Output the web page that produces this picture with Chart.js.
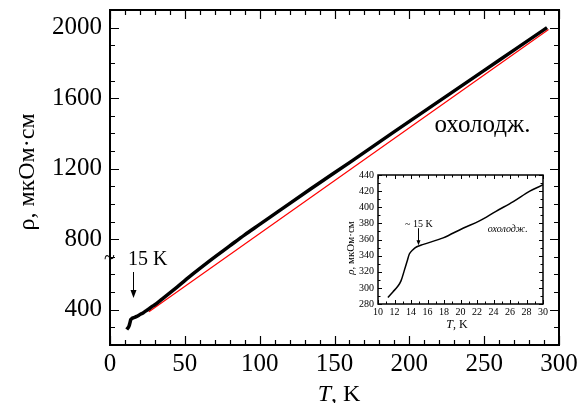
<!DOCTYPE html>
<html>
<head>
<meta charset="utf-8">
<script src="https://cdn.jsdelivr.net/npm/chart.js@4.4.1/dist/chart.umd.min.js"></script>
<style>
html, body { margin: 0; padding: 0; background: #fff; }
#wrap { position: relative; width: 579px; height: 403px; }
#main { position: absolute; left: 0; top: 0; }
#inset { position: absolute; left: 335px; top: 165px; }
</style>
</head>
<body>
<div id="wrap">
  <canvas id="main" width="579" height="403"></canvas>
  <canvas id="inset" width="215" height="172"></canvas>
</div>
<script>
// Опір при охолодженні (T, K -> ρ, мкОм·см)
const tempK = [11.2, 11.8, 12.4, 12.8, 13.2, 13.5, 13.8, 14.2, 14.7, 15.5, 17.9, 20.3, 22.3, 24.3, 26.4, 28.4, 30,
               35, 45, 55, 67, 80, 90, 100, 112, 134, 161, 190, 228, 260, 292];
const rhoCool = [288, 295, 302, 309, 322, 332, 342, 347, 351, 354, 362, 374, 383, 395, 407, 420, 428,
                 462, 530, 600, 680, 762, 825, 884, 955, 1085, 1240, 1410, 1630, 1815, 2000];

// червона пряма (лінійна екстраполяція)
const fitT = [26, 293];
const fitRho = [388, 1990];

// підписи осей
const mainXLabels = [0, 50, 100, 150, 200, 250, 300];
const mainYLabels = [400, 800, 1200, 1600, 2000];
const insetXLabels = [10, 12, 14, 16, 18, 20, 22, 24, 26, 28, 30];
const insetYLabels = [280, 300, 320, 340, 360, 380, 400, 420, 440];

const SERIF = "'Liberation Serif', 'Times New Roman', serif";

function hasLabel(v, arr) {
    return arr.some(a => Math.abs(a - v) < 1e-6);
}

function points(xs, ys) {
    return xs.map((x, i) => ({ x: x, y: ys[i] }));
}

// текст з курсивними частинами
function drawRich(ctx, parts, size, cx, cy, rotate) {
    ctx.save();
    ctx.translate(cx, cy);
    if (rotate) ctx.rotate(-Math.PI / 2);
    ctx.textBaseline = 'middle';
    ctx.textAlign = 'left';
    ctx.fillStyle = '#000';
    let total = 0;
    parts.forEach(p => {
        ctx.font = (p.italic ? 'italic ' : '') + size + 'px ' + SERIF;
        p.w = ctx.measureText(p.text).width;
        total += p.w;
    });
    let x = -total / 2;
    parts.forEach(p => {
        ctx.font = (p.italic ? 'italic ' : '') + size + 'px ' + SERIF;
        ctx.fillText(p.text, x, 0);
        x += p.w;
    });
    ctx.restore();
}

function arrowDown(ctx, x, y1, y2, head, half) {
    ctx.beginPath();
    ctx.moveTo(x, y1);
    ctx.lineTo(x, y2 - head + 1);
    ctx.stroke();
    ctx.beginPath();
    ctx.moveTo(x, y2);
    ctx.lineTo(x - half, y2 - head);
    ctx.lineTo(x + half, y2 - head);
    ctx.closePath();
    ctx.fill();
}

// рамка та внутрішні штрихи на всіх чотирьох сторонах
function frameTicks(o) {
    return {
        id: 'frameTicks',
        afterDraw(chart) {
            const ctx = chart.ctx, a = chart.chartArea;
            const xs = chart.scales.x, ys = chart.scales.y;
            ctx.save();
            ctx.strokeStyle = '#000';
            ctx.lineWidth = o.tick;
            ctx.beginPath();
            xs.ticks.forEach(t => {
                const px = Math.round(xs.getPixelForValue(t.value)) + 0.5;
                const len = hasLabel(t.value, o.xLabels) ? o.major : o.minor;
                ctx.moveTo(px, a.bottom); ctx.lineTo(px, a.bottom - len);
                ctx.moveTo(px, a.top); ctx.lineTo(px, a.top + len);
            });
            ys.ticks.forEach(t => {
                const py = Math.round(ys.getPixelForValue(t.value)) + 0.5;
                const len = hasLabel(t.value, o.yLabels) ? o.major : o.minor;
                ctx.moveTo(a.left, py); ctx.lineTo(a.left + len, py);
                ctx.moveTo(a.right, py); ctx.lineTo(a.right - len, py);
            });
            ctx.stroke();
            ctx.lineWidth = o.frame;
            ctx.strokeRect(a.left, a.top, a.right - a.left, a.bottom - a.top);
            ctx.restore();
        }
    };
}

const mainNotes = {
    id: 'mainNotes',
    afterDraw(chart) {
        const ctx = chart.ctx, xs = chart.scales.x, ys = chart.scales.y;
        ctx.save();
        ctx.fillStyle = '#000';
        ctx.strokeStyle = '#000';
        ctx.textBaseline = 'middle';
        ctx.textAlign = 'left';
        ctx.font = '20px ' + SERIF;
        ctx.fillText('~', 104, ys.getPixelForValue(690));
        ctx.fillText('15 K', xs.getPixelForValue(12), ys.getPixelForValue(682));
        ctx.lineWidth = 1;
        arrowDown(ctx, Math.round(xs.getPixelForValue(15.4)) + 0.5, ys.getPixelForValue(614), ys.getPixelForValue(466), 8, 3);
        ctx.font = '25px ' + SERIF;
        ctx.fillText('охолодж.', xs.getPixelForValue(216.8), ys.getPixelForValue(1447));
        ctx.restore();
        drawRich(ctx, [{ text: 'T', italic: true }, { text: ', K' }], 24, 339, 395, false);
        drawRich(ctx, [{ text: 'ρ, мкОм·см' }], 24, 28, 172, true);
    }
};

const insetNotes = {
    id: 'insetNotes',
    beforeDraw(chart) {
        const a = chart.chartArea, ctx = chart.ctx;
        ctx.save();
        ctx.fillStyle = '#fff';
        ctx.fillRect(a.left, a.top, a.right - a.left, a.bottom - a.top);
        ctx.restore();
    },
    afterDraw(chart) {
        const ctx = chart.ctx, xs = chart.scales.x, ys = chart.scales.y;
        ctx.save();
        ctx.fillStyle = '#000';
        ctx.strokeStyle = '#000';
        ctx.textBaseline = 'middle';
        ctx.textAlign = 'left';
        ctx.font = '10px ' + SERIF;
        ctx.fillText('~ 15 K', xs.getPixelForValue(13.27), ys.getPixelForValue(379));
        ctx.lineWidth = 1;
        arrowDown(ctx, Math.round(xs.getPixelForValue(14.85)) + 0.5, ys.getPixelForValue(374), ys.getPixelForValue(353), 5, 2);
        ctx.font = 'italic 10px ' + SERIF;
        ctx.fillText('охолодж.', xs.getPixelForValue(23.3), ys.getPixelForValue(373));
        ctx.restore();
        drawRich(ctx, [{ text: 'T', italic: true }, { text: ', K' }], 12, 122, 160, false);
        drawRich(ctx, [{ text: 'ρ', italic: true }, { text: ', мкОм·см' }], 11, 16, 83, true);
    }
};

// без автоматичних відступів осей, щоб область графіка стояла точно
function fixBox(w, h) {
    return s => {
        if (w) s.width = w;
        if (h) s.height = h;
        s.paddingTop = 0;
        s.paddingBottom = 0;
        s.paddingLeft = 0;
        s.paddingRight = 0;
    };
}

Chart.defaults.font.family = SERIF;
Chart.defaults.color = '#000';

new Chart(document.getElementById('main'), {
    type: 'line',
    data: {
        datasets: [
            {
                data: points(tempK, rhoCool),
                borderColor: '#000',
                borderWidth: 3.5,
                pointRadius: 0,
                cubicInterpolationMode: 'monotone',
                order: 0
            },
            {
                data: points(fitT, fitRho),
                borderColor: '#ff0000',
                borderWidth: 1.2,
                pointRadius: 0,
                order: 1
            }
        ]
    },
    options: {
        responsive: false,
        animation: false,
        layout: { padding: { top: 10, right: 20, left: 0, bottom: 0 } },
        plugins: { legend: { display: false }, tooltip: { enabled: false } },
        scales: {
            x: {
                type: 'linear',
                min: 0,
                max: 300,
                grid: { display: false, drawTicks: false },
                border: { display: false },
                ticks: {
                    stepSize: 10,
                    autoSkip: false,
                    maxRotation: 0,
                    padding: 4,
                    font: { size: 25, family: SERIF },
                    callback: v => hasLabel(v, mainXLabels) ? String(v) : ''
                },
                afterFit: fixBox(0, 58)
            },
            y: {
                type: 'linear',
                min: 200,
                max: 2100,
                grid: { display: false, drawTicks: false },
                border: { display: false },
                ticks: {
                    stepSize: 100,
                    autoSkip: false,
                    padding: 8,
                    font: { size: 25, family: SERIF },
                    callback: v => hasLabel(v, mainYLabels) ? String(v) : ''
                },
                afterFit: fixBox(110, 0)
            }
        }
    },
    plugins: [frameTicks({ frame: 2, tick: 1.2, major: 9, minor: 5, xLabels: mainXLabels, yLabels: mainYLabels }), mainNotes]
});

new Chart(document.getElementById('inset'), {
    type: 'line',
    data: {
        datasets: [
            {
                data: points(tempK, rhoCool),
                borderColor: '#000',
                borderWidth: 1.5,
                pointRadius: 0,
                cubicInterpolationMode: 'monotone'
            }
        ]
    },
    options: {
        responsive: false,
        animation: false,
        layout: { padding: { top: 10, right: 7, left: 0, bottom: 0 } },
        plugins: { legend: { display: false }, tooltip: { enabled: false } },
        scales: {
            x: {
                type: 'linear',
                min: 10,
                max: 30,
                grid: { display: false, drawTicks: false },
                border: { display: false },
                ticks: {
                    stepSize: 1,
                    autoSkip: false,
                    maxRotation: 0,
                    padding: 2,
                    font: { size: 10, family: SERIF },
                    callback: v => hasLabel(v, insetXLabels) ? String(v) : ''
                },
                afterFit: fixBox(0, 33)
            },
            y: {
                type: 'linear',
                min: 280,
                max: 440,
                grid: { display: false, drawTicks: false },
                border: { display: false },
                ticks: {
                    stepSize: 10,
                    autoSkip: false,
                    padding: 4,
                    font: { size: 10, family: SERIF },
                    callback: v => hasLabel(v, insetYLabels) ? String(v) : ''
                },
                afterFit: fixBox(43, 0)
            }
        }
    },
    plugins: [frameTicks({ frame: 1.5, tick: 1, major: 4, minor: 2.5, xLabels: insetXLabels, yLabels: insetYLabels }), insetNotes]
});
</script>
</body>
</html>
